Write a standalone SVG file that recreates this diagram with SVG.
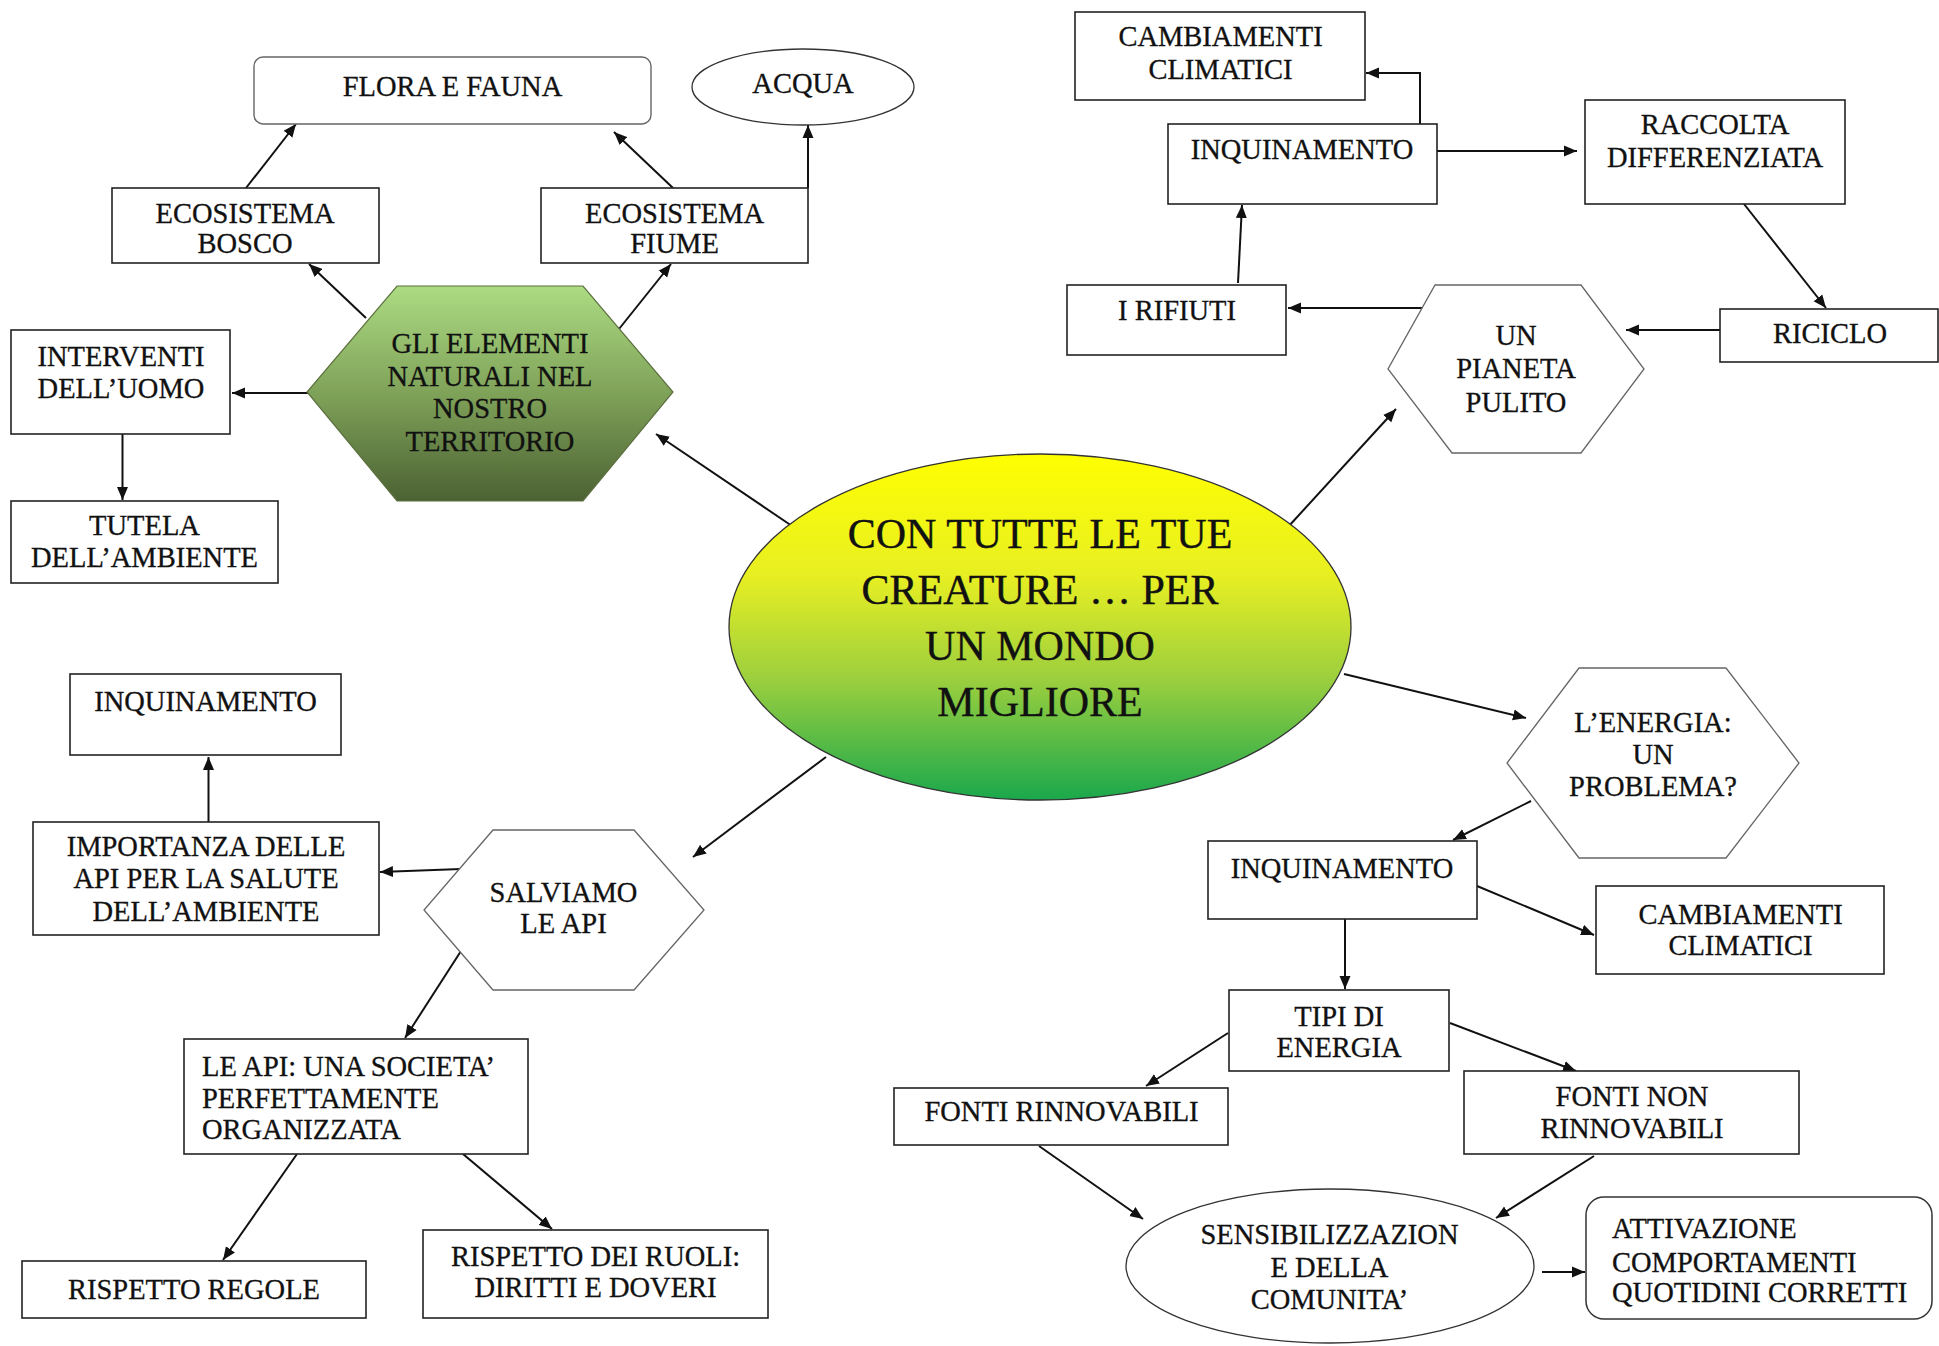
<svg xmlns="http://www.w3.org/2000/svg" width="1939" height="1346" viewBox="0 0 1939 1346">
<defs>
<linearGradient id="gCenter" x1="0" y1="0" x2="0" y2="1">
<stop offset="0" stop-color="#ffff00"/>
<stop offset="0.35" stop-color="#e8ef22"/>
<stop offset="0.65" stop-color="#9ccf3e"/>
<stop offset="1" stop-color="#1aa84c"/>
</linearGradient>
<linearGradient id="gHex" x1="0" y1="0" x2="0" y2="1">
<stop offset="0" stop-color="#acdb82"/>
<stop offset="0.5" stop-color="#7fa259"/>
<stop offset="1" stop-color="#4c6233"/>
</linearGradient>
<marker id="ah" markerUnits="userSpaceOnUse" markerWidth="14" markerHeight="12" refX="13" refY="6" orient="auto">
<path d="M0,0.5 L13,6 L0,11.5 z" fill="#111"/>
</marker>
</defs>
<style>
text{font-family:"Liberation Serif","Times New Roman",serif;font-size:28.5px;fill:#111;stroke:#111;stroke-width:0.3;text-anchor:middle}
.l{text-anchor:start}
.big{font-size:42px;stroke-width:0.4}
.box{fill:#fff;stroke:#222;stroke-width:1.6}
.rbox{fill:#fff;stroke:#666;stroke-width:1.4}
.hex{fill:#fff;stroke:#666;stroke-width:1.3}
.ell{fill:#fff;stroke:#333;stroke-width:1.3}
#connectors line,#connectors polyline{stroke:#111;stroke-width:2;fill:none;marker-end:url(#ah)}
</style>
<rect width="1939" height="1346" fill="#fff"/>

<g id="connectors">
<line x1="246" y1="188" x2="296" y2="124"/>
<line x1="673" y1="188" x2="614" y2="132"/>
<line x1="808" y1="188" x2="808" y2="125"/>
<line x1="366" y1="318" x2="309" y2="264"/>
<line x1="619" y1="329" x2="671" y2="264"/>
<line x1="308" y1="393" x2="232" y2="393"/>
<line x1="122.5" y1="434" x2="122.5" y2="500"/>
<line x1="792" y1="526" x2="656" y2="434"/>
<polyline points="1420,124 1420,73 1366,73"/>
<line x1="1437" y1="151" x2="1577" y2="151"/>
<line x1="1744" y1="204" x2="1826" y2="308"/>
<line x1="1720" y1="330" x2="1626" y2="330"/>
<line x1="1437" y1="308" x2="1288" y2="308"/>
<line x1="1238" y1="283" x2="1242" y2="205"/>
<line x1="1288" y1="527" x2="1396" y2="409"/>
<line x1="208.5" y1="822" x2="208.5" y2="757"/>
<line x1="461" y1="869" x2="380" y2="872"/>
<line x1="826" y1="757" x2="693" y2="857"/>
<line x1="461" y1="951" x2="405" y2="1038"/>
<line x1="297" y1="1154" x2="223" y2="1260"/>
<line x1="463" y1="1154" x2="552" y2="1229"/>
<line x1="1344" y1="674" x2="1526" y2="718"/>
<line x1="1531" y1="801" x2="1453" y2="840"/>
<line x1="1477" y1="886" x2="1594" y2="935"/>
<line x1="1345" y1="919" x2="1345" y2="989"/>
<line x1="1228" y1="1033" x2="1146" y2="1086"/>
<line x1="1450" y1="1023" x2="1576" y2="1071"/>
<line x1="1039" y1="1146" x2="1143" y2="1219"/>
<line x1="1594" y1="1156" x2="1496" y2="1218"/>
<line x1="1542" y1="1272" x2="1585" y2="1272"/>
</g>

<g id="center">
<ellipse cx="1040" cy="627" rx="311" ry="173" fill="url(#gCenter)" stroke="#333" stroke-width="1.3"/>
<text class="big" x="1040" y="548">CON TUTTE LE TUE</text>
<text class="big" x="1040" y="604">CREATURE … PER</text>
<text class="big" x="1040" y="660">UN MONDO</text>
<text class="big" x="1040" y="716">MIGLIORE</text>
</g>

<g id="flora">
<rect class="rbox" x="254" y="57" width="397" height="67" rx="9"/>
<text x="452.5" y="96">FLORA E FAUNA</text>
</g>
<g id="acqua">
<ellipse class="ell" cx="803" cy="87" rx="111" ry="38"/>
<text x="803" y="93">ACQUA</text>
</g>
<g id="bosco">
<rect class="box" x="112" y="188" width="267" height="75"/>
<text x="245" y="223">ECOSISTEMA</text>
<text x="245" y="253">BOSCO</text>
</g>
<g id="fiume">
<rect class="box" x="541" y="188" width="267" height="75"/>
<text x="674.5" y="223">ECOSISTEMA</text>
<text x="674.5" y="253">FIUME</text>
</g>
<g id="elementi">
<polygon points="397,286 583,286 673,392 583,501 397,501 307,392" fill="url(#gHex)" stroke="#5d7040" stroke-width="1.2"/>
<text x="490" y="353">GLI ELEMENTI</text>
<text x="490" y="385.5">NATURALI NEL</text>
<text x="490" y="418">NOSTRO</text>
<text x="490" y="450.5">TERRITORIO</text>
</g>
<g id="interventi">
<rect class="box" x="11" y="330" width="219" height="104"/>
<text x="121" y="365.5">INTERVENTI</text>
<text x="121" y="398">DELL’UOMO</text>
</g>
<g id="tutela">
<rect class="box" x="11" y="501" width="267" height="82"/>
<text x="144.5" y="535">TUTELA</text>
<text x="144.5" y="566.5">DELL’AMBIENTE</text>
</g>

<g id="cambiamenti1">
<rect class="box" x="1075" y="12" width="290" height="88"/>
<text x="1220.5" y="46">CAMBIAMENTI</text>
<text x="1220.5" y="78.5">CLIMATICI</text>
</g>
<g id="inquinamento1">
<rect class="box" x="1168" y="124" width="269" height="80"/>
<text x="1302" y="159">INQUINAMENTO</text>
</g>
<g id="raccolta">
<rect class="box" x="1585" y="100" width="260" height="104"/>
<text x="1715" y="134">RACCOLTA</text>
<text x="1715" y="166.5">DIFFERENZIATA</text>
</g>
<g id="rifiuti">
<rect class="box" x="1067" y="285" width="219" height="70"/>
<text x="1177" y="319.5">I RIFIUTI</text>
</g>
<g id="pianeta">
<polygon class="hex" points="1435,285 1581,285 1644,369 1581,453 1452,453 1388,369"/>
<text x="1516" y="344.5">UN</text>
<text x="1516" y="378">PIANETA</text>
<text x="1516" y="411.5">PULITO</text>
</g>
<g id="riciclo">
<rect class="box" x="1720" y="309" width="218" height="53"/>
<text x="1830" y="342.5">RICICLO</text>
</g>

<g id="inquinamento2">
<rect class="box" x="70" y="674" width="271" height="81"/>
<text x="205.5" y="710.5">INQUINAMENTO</text>
</g>
<g id="importanza">
<rect class="box" x="33" y="822" width="346" height="113"/>
<text x="206" y="855.5">IMPORTANZA DELLE</text>
<text x="206" y="888">API PER LA SALUTE</text>
<text x="206" y="920.5">DELL’AMBIENTE</text>
</g>
<g id="salviamo">
<polygon class="hex" points="493,830 634,830 704,910 634,990 493,990 424,910"/>
<text x="563.5" y="902">SALVIAMO</text>
<text x="563.5" y="933">LE API</text>
</g>
<g id="societa">
<rect class="box" x="184" y="1039" width="344" height="115"/>
<text class="l" x="202" y="1076">LE API: UNA SOCIETA’</text>
<text class="l" x="202" y="1108">PERFETTAMENTE</text>
<text class="l" x="202" y="1139">ORGANIZZATA</text>
</g>
<g id="regole">
<rect class="box" x="22" y="1261" width="344" height="57"/>
<text x="194" y="1298.5">RISPETTO REGOLE</text>
</g>
<g id="ruoli">
<rect class="box" x="423" y="1230" width="345" height="88"/>
<text x="595.5" y="1266">RISPETTO DEI RUOLI:</text>
<text x="595.5" y="1297">DIRITTI E DOVERI</text>
</g>

<g id="energia">
<polygon class="hex" points="1579,668 1726,668 1799,763 1726,858 1579,858 1507,763"/>
<text x="1653" y="732">L’ENERGIA:</text>
<text x="1653" y="764">UN</text>
<text x="1653" y="796">PROBLEMA?</text>
</g>
<g id="inquinamento3">
<rect class="box" x="1208" y="841" width="269" height="78"/>
<text x="1342" y="877.5">INQUINAMENTO</text>
</g>
<g id="cambiamenti2">
<rect class="box" x="1596" y="886" width="288" height="88"/>
<text x="1740.5" y="923.5">CAMBIAMENTI</text>
<text x="1740.5" y="954.5">CLIMATICI</text>
</g>
<g id="tipi">
<rect class="box" x="1229" y="990" width="220" height="81"/>
<text x="1339" y="1026">TIPI DI</text>
<text x="1339" y="1057">ENERGIA</text>
</g>
<g id="rinnovabili">
<rect class="box" x="894" y="1088" width="334" height="57"/>
<text x="1061.5" y="1121">FONTI RINNOVABILI</text>
</g>
<g id="nonrinnovabili">
<rect class="box" x="1464" y="1071" width="335" height="83"/>
<text x="1632" y="1105.5">FONTI NON</text>
<text x="1632" y="1137.5">RINNOVABILI</text>
</g>
<g id="sensibilizzazione">
<ellipse class="ell" cx="1330" cy="1266" rx="204" ry="77"/>
<text x="1329.5" y="1244">SENSIBILIZZAZION</text>
<text x="1329.5" y="1276.5">E DELLA</text>
<text x="1329.5" y="1309">COMUNITA’</text>
</g>
<g id="attivazione">
<rect fill="#fff" stroke="#333" stroke-width="1.5" x="1586" y="1197" width="346" height="122" rx="18"/>
<text class="l" x="1612" y="1238">ATTIVAZIONE</text>
<text class="l" x="1612" y="1271.5">COMPORTAMENTI</text>
<text class="l" x="1612" y="1302">QUOTIDINI CORRETTI</text>
</g>
</svg>
